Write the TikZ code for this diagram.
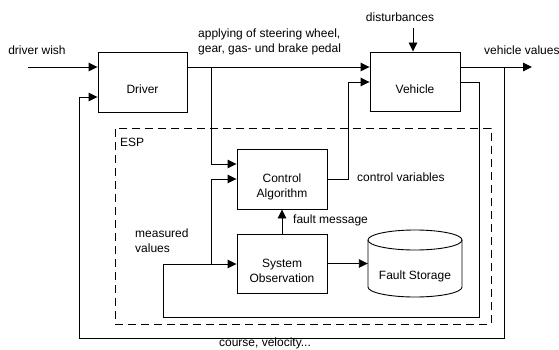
\documentclass[tikz,border=0pt]{standalone}
\usepackage{fontspec}
\setmainfont{Liberation Sans}
\usetikzlibrary{arrows.meta}
\begin{document}
\begin{tikzpicture}[x=1pt,y=-1pt,
  every node/.style={font=\fontsize{12}{15}\selectfont, inner sep=0pt},
  blockbox/.style={draw, line width=0.9pt, rectangle},
  conn/.style={line width=0.9pt},
  arr/.style={conn, -{Triangle[length=9pt,width=8.5pt]}},
  lbl/.style={anchor=west, align=left},
]
\useasboundingbox (0,0) rectangle (559,350);

% blocks
\node[blockbox, minimum width=89pt, minimum height=60pt] (drv)  at (142.5,82)  {};
\node[blockbox, minimum width=90pt, minimum height=59pt] (veh)  at (415,81.5)  {};
\node[blockbox, minimum width=90pt, minimum height=60pt] (ctrl) at (282,179)   {};
\node[blockbox, minimum width=90pt, minimum height=59pt] (sys)  at (282,263.5) {};
\node at ([yshift=-7pt]drv.center)  {Driver};
\node at ([yshift=-8pt]veh.center)  {Vehicle};
\node[align=center] at ([yshift=-7.5pt]ctrl.center) {Control\\Algorithm};
\node[align=center] at ([yshift=-7pt]sys.center)  {System\\Observation};

% fault storage drum
\node[minimum width=94pt, minimum height=67pt] (fs) at (415,263.5) {};
\draw[conn] (368,240) -- (368,287) arc[start angle=180, end angle=360, x radius=47pt, y radius=10pt] -- (462,240);
\draw[conn] (415,240) ellipse [x radius=47pt, y radius=10pt];
\node at (415,276) {Fault Storage};

% ESP frame
\node[draw, dashed, dash pattern=on 8pt off 5pt, line width=0.8pt, minimum width=376pt, minimum height=196pt] (esp) at (303,226) {};
\node[anchor=west] (esplbl) at (120,142) {ESP};

% free ends and bend points
\coordinate (dw) at (28,67);
\coordinate (vo) at (532,67);
\coordinate (dist) at (413,28);
\coordinate (b1) at (211,67);
\coordinate (b2) at (211,164);
\coordinate (cv1) at (348,179);
\coordinate (cv2) at (348,82);
\coordinate (fb1) at (504,67);
\coordinate (fb2) at (504,338);
\coordinate (fb3) at (79,338);
\coordinate (fb4) at (79,97);
\coordinate (m1) at (479,82);
\coordinate (m2) at (479,317);
\coordinate (m3) at (163,317);
\coordinate (m4) at (163,264);
\coordinate (m5) at (211,264);
\coordinate (m6) at (211,179);

% connectors
\draw[arr] (dw) -- (dw -| drv.west);
\draw[arr] (drv.east |- dw) -- (veh.west |- dw);
\draw[arr] (b1) -- (b2) -- (ctrl.west |- b2);
\draw[arr] (ctrl.east |- cv1) -- (cv1) -- (cv2) -- (veh.west |- cv2);
\draw[arr] (veh.east |- vo) -- (vo);
\draw[arr] (fb1) -- (fb2) -- (fb3) -- (fb4) -- (drv.west |- fb4);
\draw[arr] (veh.east |- m1) -- (m1) -- (m2) -- (m3) -- (m4) -- (sys.west |- m4);
\draw[arr] (m5) -- (m6) -- (ctrl.west |- m6);
\draw[arr] (sys.north) -- (ctrl.south);
\draw[arr] (sys.east) -- (sys.east -| fs.west);
\draw[arr] (dist) -- (dist |- veh.north);

% labels
\node at (37,50) {driver wish};
\node at (400,17) {disturbances};
\node[lbl] at (198,42) {applying of steering wheel,\\gear, gas- und brake pedal};
\node[lbl] at (484,50) {vehicle values};
\node[lbl] at (357,177) {control variables};
\node[lbl] at (293,220) {fault message};
\node[lbl] at (135,241) {measured\\values};
\node[anchor=base] at (265,346.5) {course, velocity...};
\end{tikzpicture}
\end{document}
